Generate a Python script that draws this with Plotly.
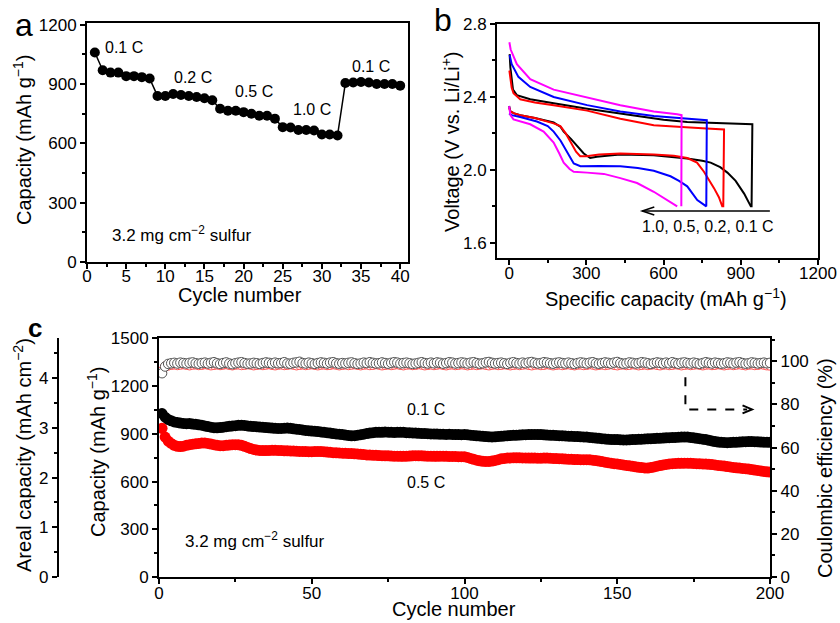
import plotly.graph_objects as go

FONT = "Arial, Liberation Sans, sans-serif"

# ---------------- Panel a: rate capability ----------------
cycles_a = list(range(1, 41))
cap_a = [1060, 970, 958, 958, 940, 940, 935, 928,
         840, 840, 850, 845, 840, 835, 828, 818,
         775, 765, 765, 758, 750, 740, 740, 725,
         682, 680, 668, 668, 665, 645, 645, 640,
         905, 908, 910, 908, 900, 900, 900, 892]
rate_labels_a = ["0.1 C", "0.2 C", "0.5 C", "1.0 C", "0.1 C"]
rate_label_x = [4.66, 13.5, 21.3, 28.8, 36.3]
rate_label_y = [1083, 932, 861, 770, 987]

# ---------------- Panel b: voltage profiles ----------------
b_black_x = [0, 5, 20, 43, 100, 173, 200, 212, 240, 264, 290, 315, 341, 400, 432, 562, 650, 692, 750, 783, 820, 848, 880, 913, 939,
             942, 945, 900, 800, 692, 600, 500, 400, 303, 173, 82, 30, 15, 10, 5, 2]
b_black_v = [2.35, 2.32, 2.31, 2.30, 2.285, 2.26, 2.235, 2.21, 2.17, 2.13, 2.09, 2.065, 2.072, 2.08, 2.084, 2.08, 2.07, 2.063, 2.05, 2.04, 2.015, 1.985, 1.94, 1.87, 1.80,
             1.80, 2.25, 2.252, 2.255, 2.262, 2.275, 2.295, 2.315, 2.335, 2.365, 2.387, 2.41, 2.44, 2.50, 2.56, 2.635]
b_red_x = [0, 5, 20, 43, 100, 173, 199, 220, 240, 260, 276, 300, 350, 432, 562, 640, 692, 730, 757, 780, 796, 815, 828,
           832, 835, 750, 650, 562, 432, 303, 173, 100, 43, 17, 10, 5, 1]
b_red_v = [2.34, 2.32, 2.31, 2.30, 2.285, 2.255, 2.24, 2.20, 2.15, 2.10, 2.075, 2.075, 2.085, 2.09, 2.085, 2.078, 2.065, 2.04, 1.99, 1.94, 1.90, 1.85, 1.80,
           1.80, 2.222, 2.228, 2.235, 2.245, 2.28, 2.325, 2.354, 2.37, 2.387, 2.42, 2.45, 2.50, 2.545]
b_blue_x = [0, 10, 43, 108, 150, 173, 200, 212, 235, 251, 277, 350, 432, 500, 562, 627, 660, 692, 731, 763,
            766, 768, 700, 562, 432, 303, 173, 82, 36, 10, 2]
b_blue_v = [2.31, 2.30, 2.29, 2.265, 2.24, 2.21, 2.16, 2.13, 2.07, 2.035, 2.02, 2.022, 2.02, 2.01, 1.995, 1.965, 1.94, 1.91, 1.835, 1.80,
            1.80, 2.272, 2.28, 2.295, 2.32, 2.355, 2.40, 2.455, 2.51, 2.58, 2.63]
b_mag_x = [0, 5, 17, 82, 134, 173, 195, 212, 235, 251, 303, 368, 432, 497, 562, 614, 653,
           None, 669, 670, 653, 562, 432, 303, 173, 82, 30, 6, 1]
b_mag_v = [2.35, 2.30, 2.277, 2.25, 2.21, 2.15, 2.09, 2.04, 2.005, 1.99, 1.985, 1.978, 1.955, 1.928, 1.88, 1.835, 1.80,
           None, 1.80, 2.30, 2.305, 2.32, 2.354, 2.396, 2.44, 2.497, 2.58, 2.66, 2.70]

# ---------------- Panel c: long cycling ----------------
cycles_c = list(range(1, 201))
cap_01C = [1028, 1005, 990, 982, 975, 972, 968, 966, 964, 965,
           962, 960, 957, 955, 950, 946, 942, 939, 938, 940,
           942, 945, 948, 950, 952, 954, 955, 953, 950, 948,
           946, 945, 943, 942, 940, 938, 937, 935, 934, 934,
           936, 937, 935, 932, 930, 928, 925, 922, 920, 918,
           917, 915, 912, 910, 908, 905, 902, 900, 898, 896,
           893, 890, 888, 889, 892, 895, 898, 902, 905, 908,
           910, 911, 910, 912, 911, 910, 909, 910, 911, 910,
           908, 907, 906, 905, 904, 903, 902, 901, 900, 900,
           899, 898, 898, 897, 898, 897, 896, 896, 895, 896,
           894, 892, 890, 888, 887, 885, 883, 882, 881, 882,
           884, 885, 887, 888, 890, 891, 892, 893, 894, 895,
           896, 896, 897, 896, 896, 894, 893, 892, 891, 890,
           889, 888, 887, 886, 885, 884, 883, 882, 881, 880,
           878, 876, 874, 872, 870, 868, 866, 865, 864, 864,
           863, 862, 862, 863, 864, 865, 866, 867, 868, 869,
           870, 871, 872, 873, 874, 875, 876, 877, 878, 879,
           880, 881, 880, 878, 875, 872, 870, 867, 864, 860,
           856, 852, 849, 847, 846, 845, 846, 847, 848, 849,
           850, 851, 852, 852, 851, 850, 849, 848, 848, 847]
cap_05C = [935, 880, 855, 840, 828, 822, 820, 823, 828, 832,
           835, 838, 840, 842, 843, 840, 836, 832, 828, 826,
           826, 828, 830, 832, 832, 831, 828, 822, 815, 808,
           802, 798, 796, 795, 795, 796, 797, 797, 796, 795,
           794, 794, 793, 792, 791, 790, 790, 789, 788, 788,
           789, 790, 789, 788, 786, 784, 782, 781, 780, 779,
           778, 777, 776, 775, 774, 772, 770, 768, 767, 766,
           765, 764, 763, 762, 762, 761, 760, 760, 759, 759,
           760, 761, 762, 763, 762, 762, 761, 760, 760, 759,
           759, 760, 760, 759, 758, 758, 758, 757, 757, 756,
           752, 746, 740, 735, 731, 728, 727, 727, 729, 733,
           738, 743, 746, 748, 749, 750, 750, 750, 749, 749,
           748, 748, 748, 747, 747, 748, 748, 747, 746, 745,
           744, 743, 742, 741, 740, 739, 739, 738, 738, 738,
           737, 735, 732, 729, 726, 722, 719, 716, 713, 711,
           708, 705, 702, 699, 696, 693, 690, 688, 686, 685,
           688, 692, 697, 701, 705, 708, 711, 713, 714, 715,
           715, 716, 716, 715, 714, 713, 712, 711, 710, 709,
           707, 705, 702, 700, 698, 695, 692, 689, 687, 685,
           683, 681, 679, 676, 673, 670, 667, 664, 662, 660]
ce_01C = [94.5, 97.6, 98.8, 99.1, 99.3, 99.0, 99.4, 99.2, 99.0, 99.3, 99.5, 99.1, 98.9, 99.2, 99.4, 99.0, 99.3, 99.6, 99.1, 98.8,
          99.2, 99.5, 99.0, 98.7, 99.1, 99.4, 99.6, 99.2, 98.9, 99.0, 99.3, 99.1, 98.8, 99.2, 99.5, 99.3, 99.0, 99.4, 99.1, 99.2,
          99.6, 99.0, 98.9, 99.3, 99.5, 99.8, 99.2, 99.0, 99.4, 99.1, 98.8, 99.2, 99.5, 99.3, 99.0, 99.4, 99.6, 99.1, 98.9, 99.2,
          99.0, 99.3, 99.5, 99.1, 98.8, 99.0, 99.4, 99.2, 99.6, 99.3, 99.0, 99.1, 99.5, 99.2, 98.9, 99.3, 99.6, 99.4, 99.0, 99.2,
          99.4, 99.1, 98.8, 99.0, 99.3, 99.6, 99.2, 99.0, 99.4, 99.1, 99.5, 99.3, 98.9, 99.2, 99.6, 99.4, 99.0, 99.2, 99.5, 99.3,
          99.0, 99.4, 99.6, 99.2, 98.9, 99.1, 99.5, 99.7, 99.3, 99.0, 99.2, 99.4, 99.1, 98.8, 99.3, 99.6, 99.2, 99.0, 99.4, 99.1,
          99.5, 99.7, 99.3, 99.0, 99.2, 99.6, 99.4, 99.1, 98.9, 99.3, 99.5, 99.2, 99.0, 99.4, 99.1, 98.8, 99.2, 99.5, 99.3, 99.0,
          99.4, 99.6, 99.1, 98.9, 99.2, 99.5, 99.3, 99.0, 99.4, 99.7, 99.2, 98.9, 99.1, 99.5, 99.3, 99.0, 99.2, 99.6, 99.4, 99.1,
          98.8, 99.2, 99.5, 99.3, 99.0, 99.4, 99.1, 99.6, 99.2, 98.9, 99.3, 99.5, 99.2, 99.0, 99.4, 99.1, 98.8, 99.2, 99.6, 99.3,
          99.0, 99.4, 99.2, 98.9, 99.1, 99.5, 99.3, 99.0, 99.4, 99.6, 99.2, 98.9, 99.1, 99.5, 99.3, 99.0, 99.2, 99.4, 99.1, 99.3]
ce_05C = [95.5, 97.6, 98.0, 98.3, 98.5, 98.2, 98.4, 98.6, 98.3, 98.1, 98.4, 98.5, 98.2, 98.3, 98.6, 98.4, 98.1, 98.3, 98.5, 98.2,
          98.4, 98.6, 98.3, 98.1, 98.4, 98.5, 98.2, 98.3, 98.6, 98.4, 98.1, 98.3, 98.5, 98.2, 98.4, 98.6, 98.3, 98.1, 98.4, 98.5,
          98.2, 98.3, 98.6, 98.4, 98.1, 98.3, 98.5, 98.2, 98.4, 98.6, 98.3, 98.1, 98.4, 98.5, 98.2, 98.3, 98.6, 98.4, 98.1, 98.3,
          98.5, 98.2, 98.4, 98.6, 98.3, 98.1, 98.4, 98.5, 98.2, 98.3, 98.6, 98.4, 98.1, 98.3, 98.5, 98.2, 98.4, 98.6, 98.3, 98.1,
          98.4, 98.5, 98.2, 98.3, 98.6, 98.4, 98.1, 98.3, 98.5, 98.2, 98.4, 98.6, 98.3, 98.1, 98.4, 98.5, 98.2, 98.3, 98.6, 98.4,
          98.1, 98.3, 98.5, 98.2, 98.4, 98.6, 98.3, 98.1, 98.4, 98.5, 98.2, 98.3, 98.6, 98.4, 98.1, 98.3, 98.5, 98.2, 98.4, 98.6,
          98.3, 98.1, 98.4, 98.5, 98.2, 98.3, 98.6, 98.4, 98.1, 98.3, 98.5, 98.2, 98.4, 98.6, 98.3, 98.1, 98.4, 98.5, 98.2, 98.3,
          98.6, 98.4, 98.1, 98.3, 98.5, 98.2, 98.4, 98.6, 98.3, 98.1, 98.4, 98.5, 98.2, 98.3, 98.6, 98.4, 98.1, 98.3, 98.5, 98.2,
          98.4, 98.6, 98.3, 98.1, 98.4, 98.5, 98.2, 98.3, 98.6, 98.4, 98.1, 98.3, 98.5, 98.2, 98.4, 98.6, 98.3, 98.1, 98.4, 98.5,
          98.2, 98.3, 98.6, 98.4, 98.1, 98.3, 98.5, 98.2, 98.4, 98.6, 98.3, 98.1, 98.4, 98.5, 98.2, 98.3, 98.6, 98.4, 98.1, 98.0]

fig = go.Figure()

# Panel a
fig.add_trace(go.Scatter(x=cycles_a, y=cap_a, mode="lines+markers",
                         line=dict(color="black", width=1.5),
                         marker=dict(color="black", size=10),
                         xaxis="x", yaxis="y", showlegend=False, cliponaxis=False))

# Panel b
for xs, vs, col in [(b_black_x, b_black_v, "black"), (b_red_x, b_red_v, "#ff0000"),
                    (b_blue_x, b_blue_v, "#0000ff"), (b_mag_x, b_mag_v, "#ff00ff")]:
    fig.add_trace(go.Scatter(x=xs, y=vs, mode="lines", line=dict(color=col, width=2),
                             xaxis="x2", yaxis="y2", showlegend=False, connectgaps=False))

# Panel c
fig.add_trace(go.Scatter(x=cycles_c, y=ce_05C, mode="markers",
                         marker=dict(symbol="circle", size=9, color="white", line=dict(color="#ff3030", width=0.8)),
                         xaxis="x3", yaxis="y4", showlegend=False))
fig.add_trace(go.Scatter(x=cycles_c, y=ce_01C, mode="markers",
                         marker=dict(symbol="circle", size=9.5, color="white", line=dict(color="#555555", width=1)),
                         xaxis="x3", yaxis="y4", showlegend=False))
fig.add_trace(go.Scatter(x=cycles_c, y=cap_01C, mode="markers",
                         marker=dict(symbol="circle", size=11, color="black"),
                         xaxis="x3", yaxis="y3", showlegend=False))
fig.add_trace(go.Scatter(x=cycles_c, y=cap_05C, mode="markers",
                         marker=dict(symbol="circle", size=11, color="#ff0000"),
                         xaxis="x3", yaxis="y3", showlegend=False))
fig.add_trace(go.Scatter(x=[], y=[], xaxis="x3", yaxis="y5", showlegend=False))


def axis(domain, rng, dtick, minor_dtick, **kw):
    d = dict(domain=domain, range=rng, dtick=dtick, tick0=0, showline=True, linecolor="black", linewidth=2,
             ticks="outside", ticklen=5, tickwidth=2, tickcolor="black", showgrid=False, zeroline=False,
             automargin=False,
             tickfont=dict(size=17, color="black", family=FONT),
             minor=dict(dtick=minor_dtick, tick0=0, ticks="outside", ticklen=3, tickwidth=1.5,
                        tickcolor="black", showgrid=False))
    d.update(kw)
    return d


fig.update_layout(
    width=840, height=623, margin=dict(l=0, r=0, t=0, b=0),
    paper_bgcolor="white", plot_bgcolor="white",
    font=dict(family=FONT, color="black"),
    xaxis=axis([0.1036, 0.4857], [0, 41], 5, 2.5, anchor="y", mirror=True, ticklabelstandoff=-7),
    yaxis=axis([0.5795, 0.9631], [0, 1209], 300, 150, anchor="x", mirror=True),
    xaxis2=axis([0.5917, 0.9738], [-47, 1200], 300, 150, anchor="y2", mirror=True, ticklabelstandoff=-6),
    yaxis2=axis([0.5859, 0.9615], [1.517, 2.8], 0.4, 0.2, anchor="x2", mirror=True, tickformat=".1f"),
    xaxis3=axis([0.1893, 0.9167], [0, 200], 50, 25, anchor="y3", mirror=True, ticklabelstandoff=-5),
    yaxis3=axis([0.0738, 0.4567], [0, 1500], 300, 150, anchor="x3"),
    yaxis4=axis([0.0738, 0.4567], [0, 110.6], 20, 10, anchor="x3", overlaying="y3", side="right"),
    yaxis5=axis([0.0738, 0.4567], [0, 4.8], 1, 0.5, anchor="free", overlaying="y3", side="left",
                position=0.069),
)

ann = []
# panel letters
ann.append(dict(text="a", x=0.0286, y=0.9599, font=dict(size=32)))
ann.append(dict(text="b", x=0.5274, y=0.9679, font=dict(size=32)))
ann.append(dict(text="<b>c</b>", x=0.0417, y=0.4735, font=dict(size=26)))
# axis titles
TT = 20
ann.append(dict(text="Capacity (mAh g<sup>−1</sup>)", x=0.0274, y=0.7753, textangle=-90, font=dict(size=TT)))
ann.append(dict(text="Cycle number", x=0.2857, y=1 - 295 / 623, font=dict(size=TT)))
ann.append(dict(text="Voltage (V vs. Li/Li<sup>+</sup>)", x=0.5369, y=0.7737, textangle=-90, font=dict(size=TT)))
ann.append(dict(text="Specific capacity (mAh g<sup>−1</sup>)", x=0.7929, y=1 - 297 / 623, font=dict(size=TT)))
ann.append(dict(text="Areal capacity (mAh cm<sup>−2</sup>)", x=0.0274, y=0.2697, textangle=-90, font=dict(size=TT)))
ann.append(dict(text="Capacity (mAh g<sup>−1</sup>)", x=0.1155, y=0.2745, textangle=-90, font=dict(size=TT)))
ann.append(dict(text="Coulombic efficiency (%)", x=0.9821, y=0.2488, textangle=-90, font=dict(size=TT)))
ann.append(dict(text="Cycle number", x=0.5405, y=1 - 609 / 623, font=dict(size=TT)))
for a in ann:
    a.update(xref="paper", yref="paper", showarrow=False, xanchor="center", yanchor="middle")
    a["font"].update(color="black", family=FONT)

# panel a labels
for t, x, y in zip(rate_labels_a, rate_label_x, rate_label_y):
    ann.append(dict(text=t, x=x, y=y, xref="x", yref="y", showarrow=False, font=dict(size=16, color="black", family=FONT)))
ann.append(dict(text="3.2 mg cm<sup>−2</sup> sulfur", x=12.1, y=142, xref="x", yref="y", showarrow=False,
                font=dict(size=17, color="black", family=FONT)))
# panel b label
ann.append(dict(text="1.0, 0.5, 0.2, 0.1 C", x=771, y=1.688, xref="x2", yref="y2", showarrow=False,
                font=dict(size=16, color="black", family=FONT)))
# panel c labels
ann.append(dict(text="0.1 C", x=87.5, y=1054, xref="x3", yref="y3", showarrow=False, font=dict(size=16, color="black", family=FONT)))
ann.append(dict(text="0.5 C", x=87.5, y=592, xref="x3", yref="y3", showarrow=False, font=dict(size=16, color="black", family=FONT)))
ann.append(dict(text="3.2 mg cm<sup>−2</sup> sulfur", x=31.5, y=232, xref="x3", yref="y3", showarrow=False,
                font=dict(size=17, color="black", family=FONT)))
fig.update_layout(annotations=ann)

shapes = []
# panel b arrow
shapes.append(dict(type="line", xref="x2", yref="y2", x0=1013, x1=517, y0=1.775, y1=1.775, line=dict(color="black", width=1.5)))
shapes.append(dict(type="path", xref="x2", yref="y2", path="M 564,1.797 L 517,1.775 L 564,1.753", line=dict(color="black", width=1.5)))
# panel c dashed arrow
shapes.append(dict(type="path", xref="x3", yref="y3", path="M 172.3,1256 L 172.3,1054 L 192.5,1054",
                   line=dict(color="black", width=2, dash="dash")))
shapes.append(dict(type="path", xref="x3", yref="y3", path="M 191,1079 L 194.1,1054 L 191,1029",
                   line=dict(color="black", width=2)))
fig.update_layout(shapes=shapes)

fig.write_html("out.html", config={"displayModeBar": False},
               post_script="document.body.style.margin='0';document.body.style.overflow='hidden';")
